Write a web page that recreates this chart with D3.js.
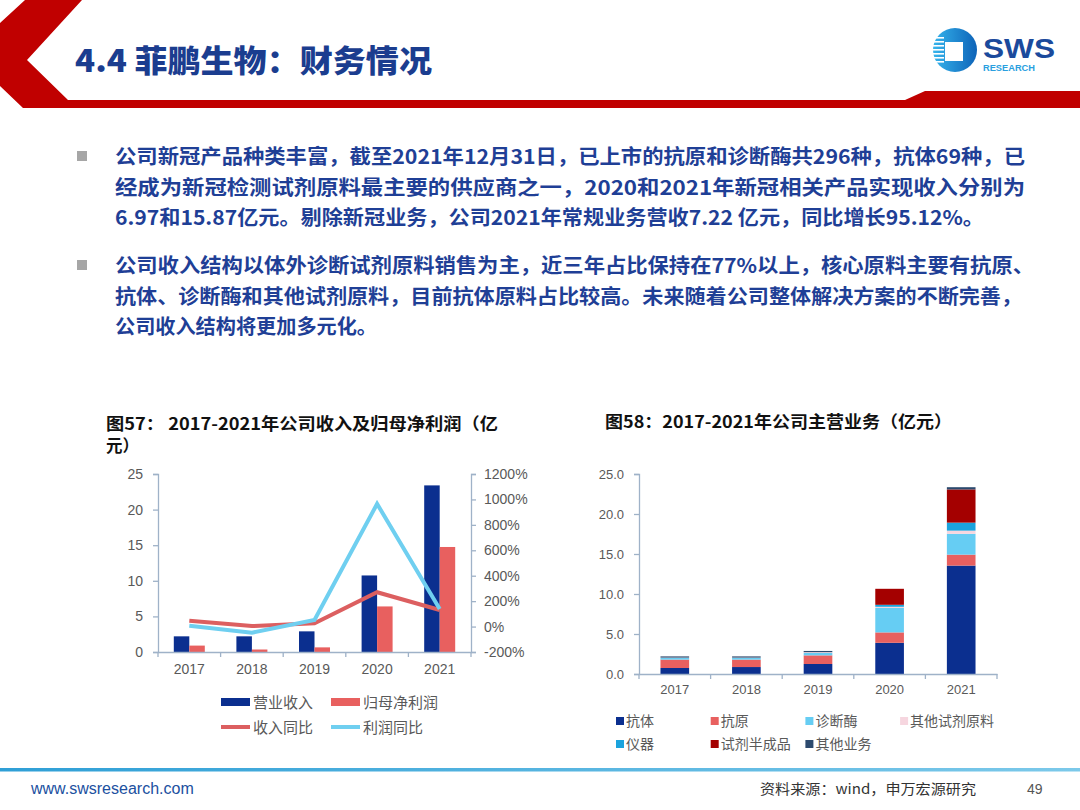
<!DOCTYPE html>
<html>
<head>
<meta charset="utf-8">
<script src="https://cdn.jsdelivr.net/npm/d3@7"></script>
<style>
  body { margin: 0; background: #fff; }
  svg { display: block; }
  text { font-family: 'Liberation Sans', 'Noto Sans CJK SC', sans-serif; }
</style>
</head>
<body>
<svg id="page"></svg>
<script>
// ---- data ----
const years = ['2017', '2018', '2019', '2020', '2021'];

// fig 57
const revenue = [2.2, 2.2, 2.9, 10.75, 23.4];
const netProfit = [0.9, 0.35, 0.65, 6.4, 14.75];
const revenueYoY = [46, 4, 26, 270, 130];
const profitYoY = [7, -48, 52, 965, 138];
const leftTicks = [0, 5, 10, 15, 20, 25];
const pctTicks = [-200, 0, 200, 400, 600, 800, 1000, 1200];

// fig 58
const segNames = ['抗体', '抗原', '诊断酶', '其他试剂原料', '仪器', '试剂半成品', '其他业务'];
const antibody = [0.75, 0.87, 1.25, 3.9, 13.55];
const antigen = [1.05, 0.93, 1.08, 1.3, 1.37];
const enzyme = [0.2, 0.2, 0.3, 3.05, 2.6];
const otherReagent = [0.05, 0.05, 0.1, 0.15, 0.4];
const instrument = [0, 0, 0, 0.25, 1.0];
const semiFinished = [0, 0, 0, 2.0, 4.15];
const otherBiz = [0.15, 0.15, 0.15, 0, 0.28];
const stackTicks = [0, 5, 10, 15, 20, 25];

const bodyText = [
  ['公司新冠产品种类丰富，截至2021年12月31日，已上市的抗原和诊断酶共296种，抗体69种，已',
   '经成为新冠检测试剂原料最主要的供应商之一，2020和2021年新冠相关产品实现收入分别为',
   '6.97和15.87亿元。剔除新冠业务，公司2021年常规业务营收7.22 亿元，同比增长95.12%。'],
  ['公司收入结构以体外诊断试剂原料销售为主，近三年占比保持在77%以上，核心原料主要有抗原、',
   '抗体、诊断酶和其他试剂原料，目前抗体原料占比较高。未来随着公司整体解决方案的不断完善，',
   '公司收入结构将更加多元化。']
];
const lineEnds = [[1025, 1025, 984], [1034, 1022, 377]];

const svg = d3.select('#page').attr('width', 1080).attr('height', 810);

// ---- header ----
svg.append('path')
  .attr('d', 'M25,0 L82,0 L27,60 L68,100 L905,100 L925,91 L1080,91 L1080,108 L23,108 L0,86 L0,23 Z')
  .attr('fill', '#c00000');

svg.append('text')
  .attr('x', 75).attr('y', 72)
  .attr('font-size', 31).attr('font-weight', 900)
  .attr('fill', '#1b3d8f')
  .style('font-family', "'Noto Sans CJK SC', sans-serif")
  .attr('textLength', 357).attr('lengthAdjust', 'spacingAndGlyphs')
  .text('4.4 菲鹏生物：财务情况');

// logo
const logo = svg.append('g');
const grad = svg.append('defs').append('linearGradient').attr('id', 'lg')
  .attr('x1', 0).attr('x2', 1).attr('y1', 0).attr('y2', 0);
grad.append('stop').attr('offset', '0%').attr('stop-color', '#36b4ec');
grad.append('stop').attr('offset', '100%').attr('stop-color', '#0d63b8');
logo.append('circle').attr('cx', 955).attr('cy', 50).attr('r', 22).attr('fill', 'url(#lg)');
d3.range(7).forEach(i => {
  logo.append('rect').attr('x', 928).attr('y', 37 + i * 4).attr('width', 16).attr('height', 1.6).attr('fill', '#fff');
});
logo.append('rect').attr('x', 945).attr('y', 42).attr('width', 18).attr('height', 19).attr('fill', '#fff');
logo.append('text').attr('x', 983).attr('y', 58)
  .attr('font-size', 27).attr('font-weight', 700).attr('fill', '#1b4a9c')
  .attr('textLength', 72).attr('lengthAdjust', 'spacingAndGlyphs')
  .text('SWS');
logo.append('text').attr('x', 983).attr('y', 71)
  .attr('font-size', 8.5).attr('font-weight', 700).attr('fill', '#2a9fdf')
  .attr('textLength', 52).attr('lengthAdjust', 'spacingAndGlyphs')
  .text('RESEARCH');

// ---- body text ----
const baseY = [164, 273];
bodyText.forEach((para, p) => {
  svg.append('rect')
    .attr('x', 77).attr('y', baseY[p] - 13).attr('width', 10).attr('height', 10)
    .attr('fill', '#a6a6a6');
  para.forEach((line, i) => {
    svg.append('text')
      .attr('x', 115).attr('y', baseY[p] + i * 30.7)
      .attr('font-size', 20).attr('font-weight', 700)
      .attr('fill', '#1f3f96')
      .style('font-family', "'Noto Sans CJK SC', sans-serif")
      .attr('textLength', lineEnds[p][i] - 115)
      .attr('lengthAdjust', 'spacingAndGlyphs')
      .text(line);
  });
});

// ---- figure titles ----
const titleFont = "'Noto Sans CJK SC', sans-serif";
svg.append('text').attr('x', 106).attr('y', 430)
  .attr('font-size', 16.5).attr('font-weight', 700).attr('fill', '#111')
  .style('font-family', titleFont)
  .attr('textLength', 392).attr('lengthAdjust', 'spacingAndGlyphs')
  .text('图57： 2017-2021年公司收入及归母净利润（亿');
svg.append('text').attr('x', 106).attr('y', 452)
  .attr('font-size', 16.5).attr('font-weight', 700).attr('fill', '#111')
  .style('font-family', titleFont)
  .text('元）');
svg.append('text').attr('x', 605).attr('y', 428)
  .attr('font-size', 16.5).attr('font-weight', 700).attr('fill', '#111')
  .style('font-family', titleFont)
  .attr('textLength', 347).attr('lengthAdjust', 'spacingAndGlyphs')
  .text('图58：2017-2021年公司主营业务（亿元）');

const axisColor = '#9fb2c8';
const labelColor = '#595959';

function styleAxis(g) {
  g.select('.domain').attr('stroke', axisColor).attr('stroke-width', 1.3);
  g.selectAll('.tick line').attr('stroke', axisColor).attr('stroke-width', 1.3);
  g.selectAll('.tick text').attr('fill', labelColor).attr('font-size', 14);
}

// ---- fig 57 ----
const x1 = d3.scaleBand().domain(years).range([158, 471]);
const sub1 = d3.scaleBand().domain(['rev', 'np'])
  .range([x1.bandwidth() / 2 - 15.5, x1.bandwidth() / 2 + 15.5]);
const yL = d3.scaleLinear().domain([0, 25]).range([652, 474]);
const yR = d3.scaleLinear().domain([-200, 1200]).range([652, 474]);

const c1 = svg.append('g');
c1.selectAll('.rev').data(years).enter().append('rect')
  .attr('x', d => x1(d) + sub1('rev'))
  .attr('width', sub1.bandwidth())
  .attr('y', (d, i) => yL(revenue[i]))
  .attr('height', (d, i) => yL(0) - yL(revenue[i]))
  .attr('fill', '#0b2f8f');
c1.selectAll('.np').data(years).enter().append('rect')
  .attr('x', d => x1(d) + sub1('np'))
  .attr('width', sub1.bandwidth())
  .attr('y', (d, i) => yL(netProfit[i]))
  .attr('height', (d, i) => yL(0) - yL(netProfit[i]))
  .attr('fill', '#e8605f');

c1.append('g').attr('transform', 'translate(158,0)')
  .call(d3.axisLeft(yL).tickValues(leftTicks).tickSize(5).tickPadding(10))
  .call(styleAxis);
c1.append('g').attr('transform', 'translate(471,0)')
  .call(d3.axisRight(yR).tickValues(pctTicks).tickSize(5).tickPadding(8).tickFormat(d => d + '%'))
  .call(styleAxis);
const xAx1 = c1.append('g').attr('transform', 'translate(0,652)')
  .call(d3.axisBottom(x1).tickSize(0).tickPadding(12))
  .call(styleAxis);
xAx1.selectAll('.boundary').data(d3.range(years.length + 1)).enter().append('line')
  .attr('x1', i => 158 + i * x1.step()).attr('x2', i => 158 + i * x1.step())
  .attr('y1', 0).attr('y2', 5).attr('stroke', axisColor).attr('stroke-width', 1.3);

const line1 = d3.line().x((d, i) => x1(years[i]) + x1.bandwidth() / 2).y(d => yR(d));
c1.append('path').datum(revenueYoY).attr('d', line1)
  .attr('fill', 'none').attr('stroke', '#dc5f60').attr('stroke-width', 4);
c1.append('path').datum(profitYoY).attr('d', line1)
  .attr('fill', 'none').attr('stroke', '#6fcff0').attr('stroke-width', 4);

// legend 57
const leg1 = [
  { name: '营业收入', color: '#0b2f8f', kind: 'bar', x: 221, y: 702 },
  { name: '归母净利润', color: '#e8605f', kind: 'bar', x: 331, y: 702 },
  { name: '收入同比', color: '#dc5f60', kind: 'line', x: 221, y: 727 },
  { name: '利润同比', color: '#6fcff0', kind: 'line', x: 331, y: 727 }
];
leg1.forEach(d => {
  if (d.kind === 'bar') {
    svg.append('rect').attr('x', d.x).attr('y', d.y - 4).attr('width', 29).attr('height', 8).attr('fill', d.color);
  } else {
    svg.append('line').attr('x1', d.x).attr('x2', d.x + 29).attr('y1', d.y).attr('y2', d.y)
      .attr('stroke', d.color).attr('stroke-width', 4);
  }
  svg.append('text').attr('x', d.x + 32).attr('y', d.y + 5.5)
    .attr('font-size', 15).attr('fill', labelColor)
    .style('font-family', "'Noto Sans CJK SC', sans-serif")
    .text(d.name);
});

// ---- fig 58 ----
const segColors = ['#0b2f8f', '#e8605f', '#66cdf3', '#f6d6df', '#1ba3dd', '#a40000', '#2c4a6e'];
const segSeries = [antibody, antigen, enzyme, otherReagent, instrument, semiFinished, otherBiz];
const rows = years.map((y, i) => {
  const r = { year: y };
  segNames.forEach((n, k) => { r[n] = segSeries[k][i]; });
  return r;
});
const stacked = d3.stack().keys(segNames)(rows);

const x2 = d3.scaleBand().domain(years).range([639, 997]).paddingInner(0.6).paddingOuter(0.3);
const y2 = d3.scaleLinear().domain([0, 25]).range([674, 474]);
const c2 = svg.append('g');
c2.selectAll('.layer').data(stacked).enter().append('g')
  .attr('fill', (d, k) => segColors[k])
  .selectAll('rect').data(d => d).enter().append('rect')
  .attr('x', d => x2(d.data.year))
  .attr('width', x2.bandwidth())
  .attr('y', d => y2(d[1]))
  .attr('height', d => y2(d[0]) - y2(d[1]));

c2.append('g').attr('transform', 'translate(639,0)')
  .call(d3.axisLeft(y2).tickValues(stackTicks).tickSize(5).tickPadding(10).tickFormat(d3.format('.1f')))
  .call(styleAxis)
  .call(g => g.selectAll('.tick text').attr('font-size', 13));
const xAx2 = c2.append('g').attr('transform', 'translate(0,674)')
  .call(d3.axisBottom(x2).tickSize(0).tickPadding(11))
  .call(styleAxis)
  .call(g => g.selectAll('.tick text').attr('font-size', 13));
xAx2.selectAll('.boundary').data(d3.range(years.length + 1)).enter().append('line')
  .attr('x1', i => 639 + i * x2.step()).attr('x2', i => 639 + i * x2.step())
  .attr('y1', 0).attr('y2', 5).attr('stroke', axisColor).attr('stroke-width', 1.3);

// legend 58
segNames.forEach((n, k) => {
  const col = k < 4 ? k : k - 4;
  const row = k < 4 ? 0 : 1;
  const lx = 616 + col * 94.7;
  const ly = 721 + row * 23;
  svg.append('rect').attr('x', lx).attr('y', ly - 4).attr('width', 8).attr('height', 8).attr('fill', segColors[k]);
  svg.append('text').attr('x', lx + 10).attr('y', ly + 5)
    .attr('font-size', 14).attr('fill', labelColor)
    .style('font-family', "'Noto Sans CJK SC', sans-serif")
    .text(n);
});

// ---- footer ----
const fg = svg.append('defs').append('linearGradient').attr('id', 'fg');
fg.append('stop').attr('offset', '0%').attr('stop-color', '#2f9fd6');
fg.append('stop').attr('offset', '100%').attr('stop-color', '#7cc9ea');
svg.append('rect').attr('x', 0).attr('y', 768).attr('width', 1080).attr('height', 3.5).attr('fill', 'url(#fg)');
svg.append('text').attr('x', 31).attr('y', 794)
  .attr('font-size', 16).attr('fill', '#2050a0')
  .text('www.swsresearch.com');
svg.append('text').attr('x', 760).attr('y', 794)
  .attr('font-size', 14).attr('fill', '#333')
  .style('font-family', "'Noto Sans CJK SC', sans-serif")
  .attr('textLength', 216).attr('lengthAdjust', 'spacingAndGlyphs')
  .text('资料来源：wind，申万宏源研究');
svg.append('text').attr('x', 1027).attr('y', 794)
  .attr('font-size', 14).attr('fill', '#555')
  .text('49');
</script>
</body>
</html>
